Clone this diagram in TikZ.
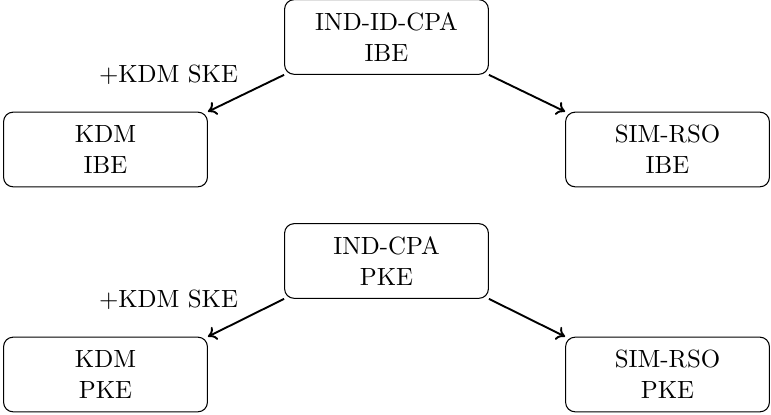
\documentclass[tikz,border=0pt]{standalone}
\usetikzlibrary{arrows.meta}
\begin{document}
\begin{tikzpicture}[x=0.422pt,y=-0.422pt,
  box/.style={draw,rounded corners=4pt,line width=0.45pt,align=center,
    minimum width=86pt,minimum height=31.5pt,inner sep=0pt,font=\fontsize{10.5}{13}\selectfont},
  arr/.style={-{To[length=3.5pt,width=6pt]},line width=0.8pt},
  lbl/.style={font=\fontsize{10.5}{13}\selectfont,inner sep=0pt}]
\useasboundingbox (0,0) rectangle (771,415);
\node[box] (t1) at (386.5,37) {IND-ID-CPA\\IBE};
\node[box] (l1) at (105.5,149.5) {KDM\\IBE};
\node[box] (r1) at (667.5,149.5) {SIM-RSO\\IBE};
\node[box] (t2) at (386.5,261) {IND-CPA\\PKE};
\node[box] (l2) at (105.5,374.5) {KDM\\PKE};
\node[box] (r2) at (667.5,374.5) {SIM-RSO\\PKE};
\node[lbl] (k1) at (168.5,75) {+KDM SKE};
\node[lbl] (k2) at (168.5,300) {+KDM SKE};
\draw[arr] (t1.south west) -- (l1.north east);
\draw[arr] (t1.south east) -- (r1.north west);
\draw[arr] (t2.south west) -- (l2.north east);
\draw[arr] (t2.south east) -- (r2.north west);
\end{tikzpicture}
\end{document}
